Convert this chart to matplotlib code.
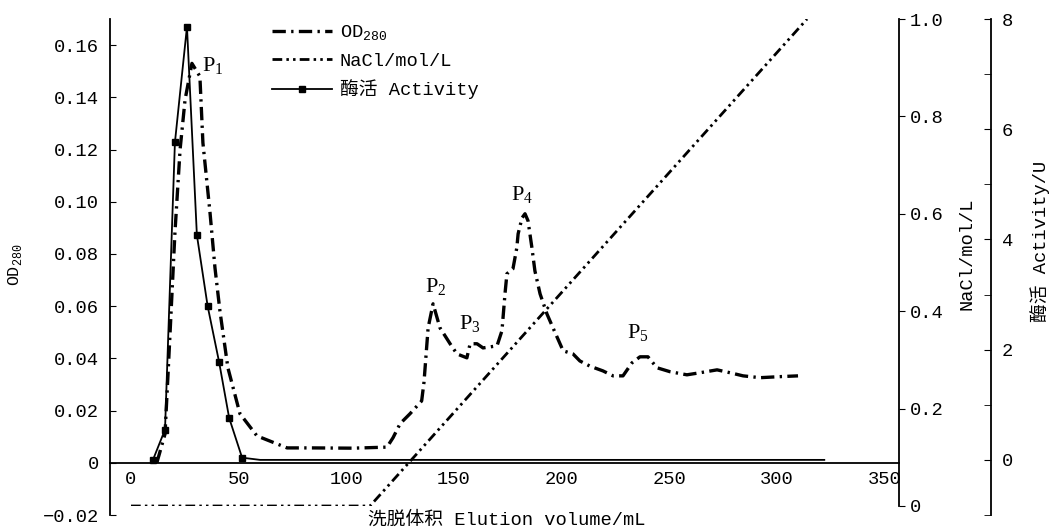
import numpy as np
import matplotlib.pyplot as plt
from matplotlib.lines import Line2D
from matplotlib.ticker import FuncFormatter

plt.rcParams['font.family'] = ['Liberation Mono', 'Noto Sans CJK SC']
plt.rcParams['font.size'] = 13.5
plt.rcParams['mathtext.fontset'] = 'custom'
plt.rcParams['mathtext.rm'] = 'Liberation Serif'
plt.rcParams['mathtext.tt'] = 'Liberation Mono'

# OD280 (left axis)
od_x = [12, 15.8, 17.2, 18.1, 20.4, 22.8, 25.1, 28.3, 32, 33.4,
        36.7, 39, 41.3, 45, 50.6, 58.5, 72.5, 84.5, 103, 118.9,
        121.7, 125, 129.6, 135, 136.1, 138, 140.3, 143.5, 148.2, 151.4,
        156, 157.5, 160.7, 163.5, 170, 172.3, 173.7, 174.6, 177.4, 179.2,
        179.8, 181.6, 183, 184.4, 186.2, 187.6, 190, 193.2, 196, 200.7,
        205.3, 208.5, 213.2, 219.2, 223.9, 228.5, 232.7, 236.4, 240.1, 244.3,
        250.3, 258.2, 264.3, 272.2, 278.2, 284.3, 292.2, 301.4, 309.8]
od_y = [0.0, 0.011, 0.034, 0.049, 0.088, 0.120, 0.139, 0.153, 0.148, 0.1226,
        0.0958, 0.0747, 0.0582, 0.0364, 0.0188, 0.0103, 0.0057, 0.0057, 0.0056, 0.006,
        0.0096, 0.015, 0.0188, 0.0237, 0.031, 0.0517, 0.0609, 0.0517, 0.0456, 0.0417,
        0.0402, 0.0456, 0.0456, 0.044, 0.0448, 0.0506, 0.0647, 0.0724, 0.0743, 0.0824,
        0.0877, 0.0938, 0.0954, 0.0927, 0.0824, 0.0735, 0.0647, 0.057, 0.0517, 0.0429,
        0.0417, 0.039, 0.037, 0.0352, 0.0333, 0.0333, 0.0383, 0.0406, 0.0406, 0.0364,
        0.0349, 0.0337, 0.0345, 0.0356, 0.0345, 0.0333, 0.0326, 0.033, 0.0333]

# NaCl gradient
nacl_x = [0, 111, 314]
nacl_y = [0, 0, 1.0]

# 酶活 Activity
act_x = [10.2, 15.8, 20.4, 26.0, 30.6, 35.6, 40.9, 45.6, 51.6, 60, 322]
act_y = [0, 0.55, 5.76, 7.86, 4.08, 2.79, 1.78, 0.76, 0.04, 0.0, 0.0]

# peak labels
peak_names = [r'$\mathrm{P}_1$', r'$\mathrm{P}_2$', r'$\mathrm{P}_3$', r'$\mathrm{P}_4$', r'$\mathrm{P}_5$']
peak_x = [38.1, 141.7, 157.5, 181.6, 235.5]
peak_y = [0.152, 0.0674, 0.0529, 0.1026, 0.0498]

W, H = 1051, 531
fig = plt.figure(figsize=(W / 100, H / 100), dpi=100)
xlim = (-9.75, 356.7)

od_dash = (4, 1.6, 0.7, 1.6)
nacl_dash = (3.5, 1.5, 0.9, 1.5, 0.9, 1.5)

# --- OD axis ---
ax = fig.add_axes([110 / W, 16 / H, 789 / W, 496 / H])
ax.plot(od_x, od_y, color='black', lw=2.4, dashes=od_dash)
ax.set_xlim(*xlim)
ax.set_ylim(-0.02, 0.17)
for s in ['top', 'right']:
    ax.spines[s].set_visible(False)
ax.spines['bottom'].set_position(('data', 0))
ax.spines['left'].set_linewidth(1.3)
ax.spines['bottom'].set_linewidth(1.3)
ax.set_xticks(range(0, 351, 50))
ax.tick_params(axis='x', length=0, pad=6)
ax.set_yticks(np.arange(-0.02, 0.161, 0.02))
ax.tick_params(axis='y', direction='in', length=4, pad=8)
ax.yaxis.set_major_formatter(FuncFormatter(
    lambda v, p: '0' if abs(v) < 1e-9 else f'{v:.2f}'.replace('-', '\u2212')))
for name, px, py in zip(peak_names, peak_x, peak_y):
    ax.text(px, py, name, ha='center', va='center', fontsize=16)

# --- NaCl axis ---
ax2 = fig.add_axes([110 / W, 25 / H, 789 / W, 487 / H])
ax2.patch.set_visible(False)
ax2.plot(nacl_x, nacl_y, color='black', lw=2.0, dashes=nacl_dash)
ax2.set_xlim(*xlim)
ax2.set_ylim(0, 1.0)
for s in ['top', 'left', 'bottom']:
    ax2.spines[s].set_visible(False)
ax2.spines['right'].set_linewidth(1.3)
ax2.xaxis.set_visible(False)
ax2.yaxis.tick_right()
ax2.set_yticks(np.arange(0, 1.01, 0.2))
ax2.yaxis.set_major_formatter(FuncFormatter(lambda v, p: '0' if abs(v) < 1e-9 else f'{v:.1f}'))
ax2.tick_params(axis='y', direction='out', length=4, pad=4)

# --- Activity axis ---
ax3 = fig.add_axes([110 / W, 16 / H, 789 / W, 496 / H])
ax3.patch.set_visible(False)
ax3.plot(act_x, act_y, color='black', lw=1.3, marker='s', markersize=4.5,
         markevery=list(range(9)))
ax3.set_xlim(*xlim)
ax3.set_ylim(-1, 8)
for s in ['top', 'left', 'bottom']:
    ax3.spines[s].set_visible(False)
ax3.spines['right'].set_position(('axes', 881 / 789))
ax3.spines['right'].set_linewidth(1.3)
ax3.xaxis.set_visible(False)
ax3.yaxis.tick_right()
ax3.set_yticks([0, 2, 4, 6, 8])
ax3.set_yticks([-1, 1, 3, 5, 7], minor=True)
ax3.tick_params(axis='y', which='both', direction='in', length=5, pad=8)

# legend
handles = [Line2D([], [], color='black', lw=2.4, dashes=od_dash),
           Line2D([], [], color='black', lw=2.0, dashes=nacl_dash),
           Line2D([], [], color='black', lw=1.3, marker='s', markersize=4.5)]
labels = [r'$\mathtt{OD}_{\mathtt{280}}$', 'NaCl/mol/L', '酶活 Activity']
fig.legend(handles, labels, loc='upper left', bbox_to_anchor=(272 / W, 1 - 24 / H),
           frameon=False, handlelength=3.2, handletextpad=0.4, labelspacing=0.5,
           borderpad=0, borderaxespad=0)

# axis titles
fig.text(15 / W, 1 - 265 / H, r'$\mathtt{OD}_{\mathtt{280}}$', rotation=90,
         ha='center', va='center', fontsize=12)
fig.text(967 / W, 1 - 254 / H, 'NaCl/mol/L', rotation=90, ha='center', va='center')
fig.text(1040 / W, 1 - 241 / H, '酶活 Activity/U', rotation=90, ha='center', va='center')
fig.text(507 / W, 1 - 520 / H, '洗脱体积 Elution volume/mL', ha='center', va='center')

fig.savefig('out.png', dpi=100)
